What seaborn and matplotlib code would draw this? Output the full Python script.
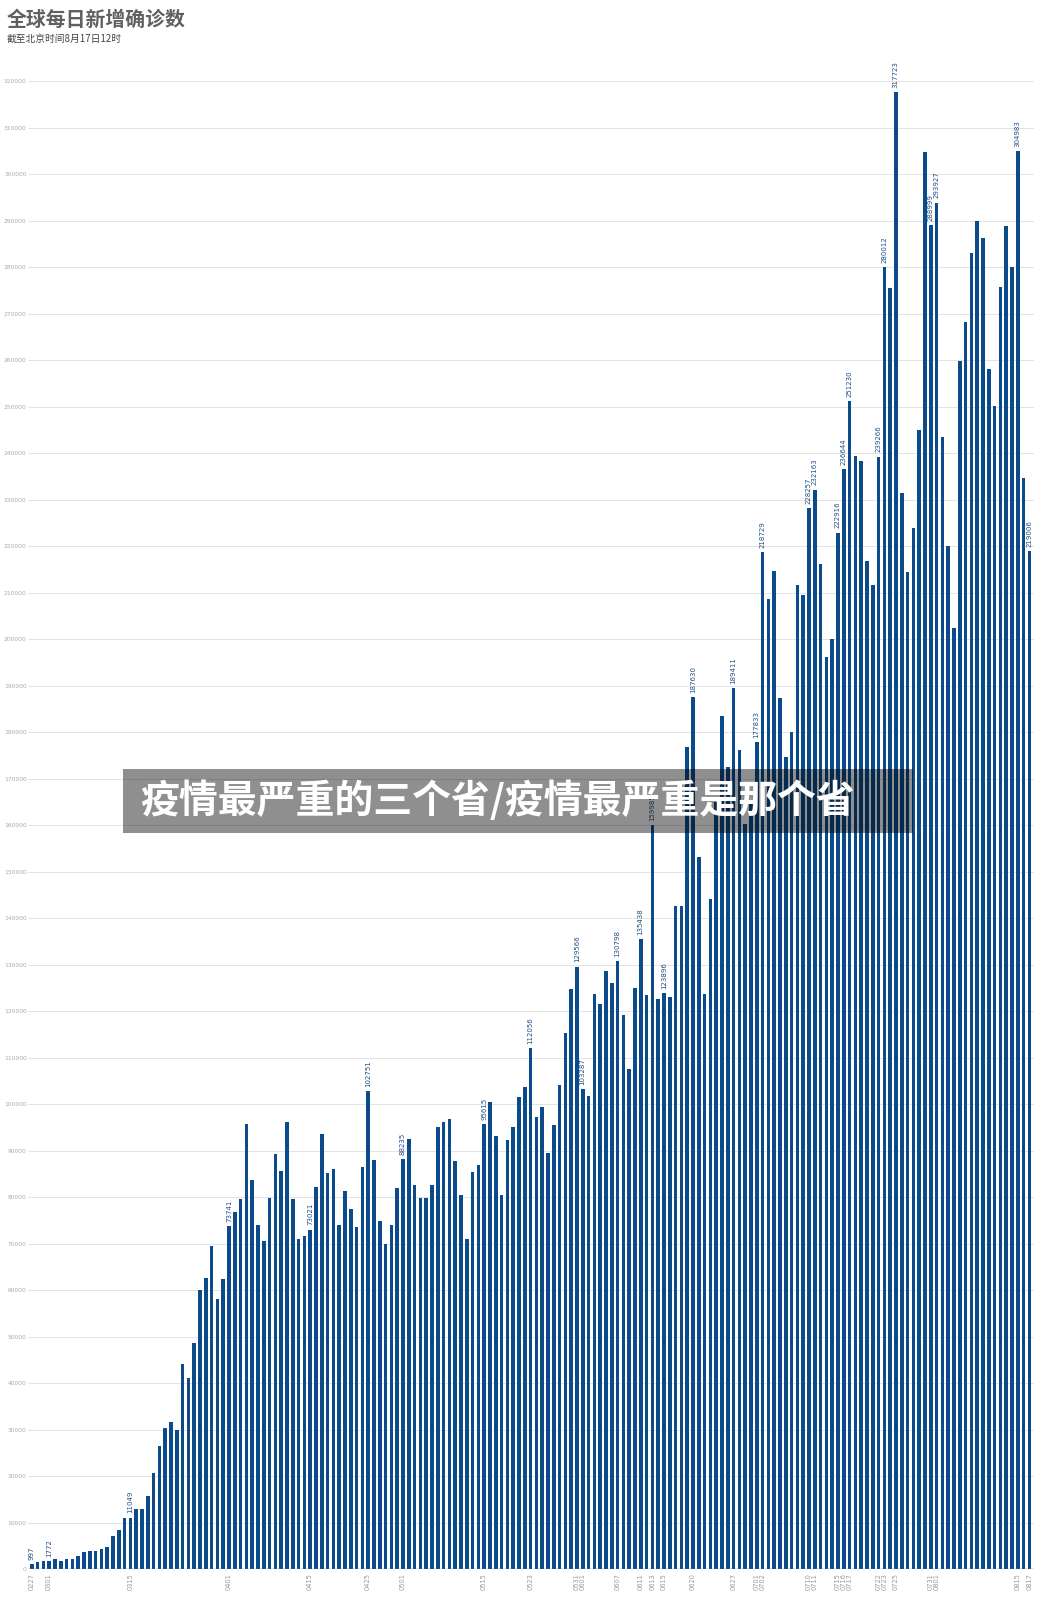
import matplotlib
matplotlib.use("Agg")
import matplotlib.pyplot as plt
import seaborn as sns
import pandas as pd
import numpy as np
from matplotlib.patches import Rectangle

# ---------------- data ----------------
start_date = "2020-02-27"
daily_new = [
    997, 1500, 1800, 1772, 2100, 1800, 2200, 2200, 2900, 3700,
    3800, 3800, 4400, 4700, 7000, 8400, 10900, 11049, 12800, 13000,
    15700, 20700, 26400, 30300, 31700, 29800, 44000, 41100, 48700, 60000,
    62700, 69500, 58000, 62400, 73741, 76800, 79500, 95700, 83700, 74000,
    70500, 79700, 89200, 85700, 96100, 79500, 70900, 71600, 73021, 82100,
    93500, 85200, 86000, 74100, 81200, 77400, 73500, 86400, 102751, 88000,
    74800, 69800, 74100, 81900, 88235, 92400, 82700, 79800, 79900, 82600,
    95100, 96200, 96900, 87800, 80400, 71000, 85300, 87000, 95615, 100400,
    93100, 80400, 92300, 95100, 101600, 103700, 112056, 97300, 99400, 89400,
    95600, 104200, 115300, 124700, 129566, 103287, 101700, 123700, 121500, 128600,
    126000, 130798, 119100, 107500, 124900, 135438, 123500, 159985, 122700, 123896,
    123000, 142600, 142600, 176800, 187630, 153100, 123600, 144100, 165000, 183500,
    172500, 189411, 176200, 160300, 165000, 177833, 218729, 208600, 214700, 187300,
    174700, 180000, 211700, 209500, 228257, 232163, 216100, 196200, 200000, 222916,
    236644, 251230, 239500, 238400, 216900, 211600, 239266, 280012, 275500, 317723,
    231500, 214500, 223900, 245100, 304800, 288999, 293927, 243500, 220000, 202500,
    259800, 268200, 283100, 290000, 286200, 258200, 250200, 275800, 288800, 280100,
    304983, 234600, 219006,
]
labeled_dates = [
    "0227", "0301", "0315", "0401", "0415", "0425", "0501", "0515", "0523",
    "0531", "0601", "0607", "0611", "0613", "0615", "0620", "0627", "0701",
    "0702", "0710", "0711", "0715", "0716", "0717", "0722", "0723", "0725",
    "0731", "0801", "0815", "0817",
]
y_ticks = list(range(0, 330000, 10000))

title = "全球每日新增确诊数"
subtitle = "截至北京时间8月17日12时"
watermark = "疫情最严重的三个省/疫情最严重是那个省"

dates = pd.date_range(start_date, periods=len(daily_new), freq="D")
date_codes = dates.strftime("%m%d").tolist()
df = pd.DataFrame({"idx": np.arange(len(daily_new)), "code": date_codes, "value": daily_new})
label_idx = [date_codes.index(d) for d in labeled_dates]

# ---------------- style ----------------
sns.set_style("white")
plt.rcParams["font.family"] = ["Noto Sans CJK SC", "DejaVu Sans"]

W, H = 1039, 1603
fig = plt.figure(figsize=(W / 100, H / 100), dpi=100)
left_px, right_px, top_px, bottom_px = 28, 1034, 72, 1569
ax = fig.add_axes([left_px / W, 1 - bottom_px / H,
                   (right_px - left_px) / W, (bottom_px - top_px) / H])

bar_color = "#0b4a8b"
sns.barplot(data=df, x="idx", y="value", color=bar_color, width=0.62,
            saturation=1, linewidth=0, edgecolor="none", ax=ax,
            order=list(range(len(daily_new))))

ax.set_xlim(-0.64, 172.81)
ax.set_ylim(0, 322000)
ax.set_yticks(y_ticks)
ax.set_yticklabels([str(t) for t in y_ticks], fontsize=4.3, color="#aaaaaa",
                   family="DejaVu Sans")
ax.tick_params(axis="y", length=0, pad=1)
ax.yaxis.grid(True, color="#e3e3e3", linewidth=0.7)
ax.set_axisbelow(True)

ax.set_xticks(label_idx)
ax.set_xticklabels(labeled_dates, rotation=90, fontsize=4.8, color="#9a9a9a",
                   family="DejaVu Sans")
ax.tick_params(axis="x", length=0, pad=3)
ax.set_xlabel("")
ax.set_ylabel("")
for s in ax.spines.values():
    s.set_visible(False)
ax.axhline(0, color="#777777", linewidth=1.0, zorder=3)

for i in label_idx:
    v = daily_new[i]
    ax.text(i, v + 900, str(v), rotation=90, ha="center", va="bottom",
            fontsize=5, color="#1f4f86", family="DejaVu Sans")

# titles
fig.text(7 / W, 1 - 19 / H, title, fontsize=14.3, fontweight="bold",
         color="#606060", va="center", ha="left")
fig.text(7 / W, 1 - 39 / H, subtitle, fontsize=7, color="#444444",
         va="center", ha="left")

# watermark overlay
fig.patches.append(Rectangle((123 / W, 1 - 833 / H), (913 - 123) / W, (833 - 769) / H,
                             transform=fig.transFigure, facecolor="black",
                             alpha=0.44, edgecolor="none", zorder=10))
fig.text(140 / W, 1 - 801 / H, watermark, fontsize=28, fontweight="heavy",
         color="white", va="center", ha="left", zorder=11)

fig.savefig("out.png", dpi=100)
